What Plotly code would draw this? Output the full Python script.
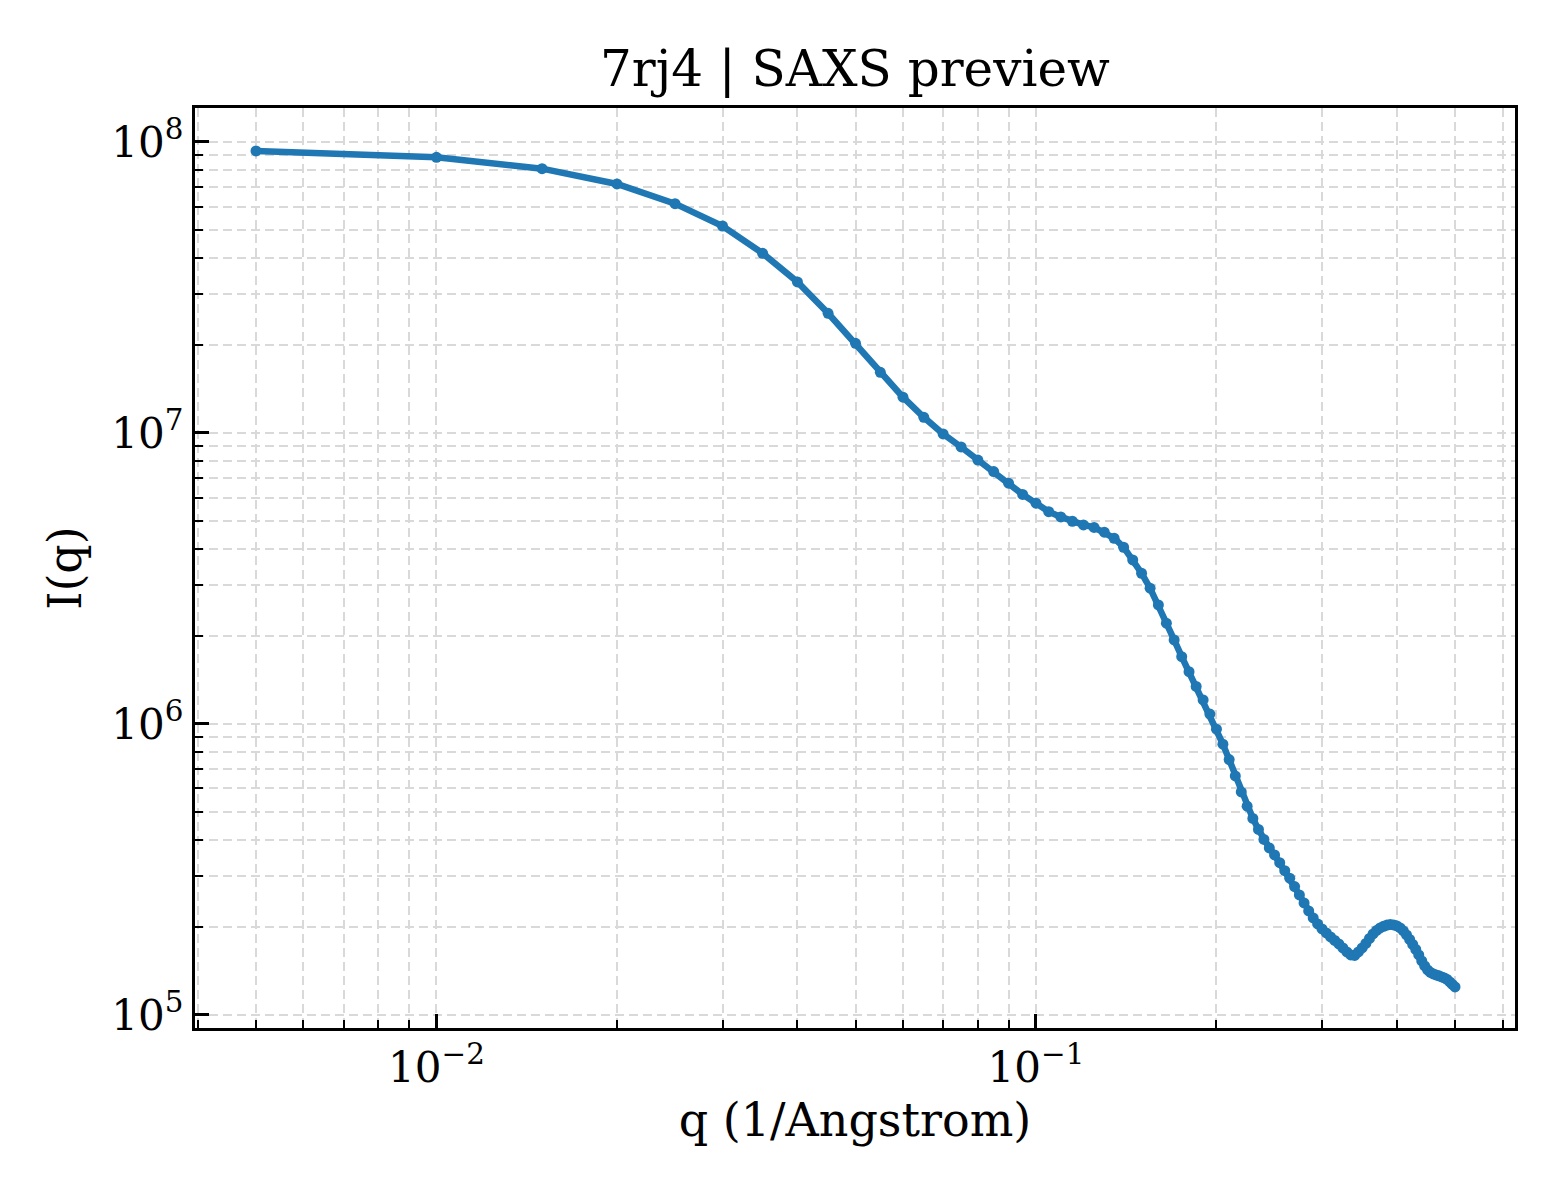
import plotly.graph_objects as go

# ---- data ----
q_values = [round(0.005 * k, 3) for k in range(1, 101)]

intensity = [
    9.313e7, 8.860e7, 8.096e7, 7.173e7, 6.138e7, 5.144e7, 4.145e7, 3.303e7, 2.578e7, 2.033e7,
    1.616e7, 1.327e7, 1.132e7, 9.92e6, 8.95e6, 8.07e6, 7.37e6, 6.72e6, 6.15e6, 5.735e6,
    5.365e6, 5.145e6, 4.973e6, 4.83e6, 4.735e6, 4.559e6, 4.347e6, 4.048e6, 3.661e6, 3.295e6,
    2.927e6, 2.564e6, 2.219e6, 1.944e6, 1.703e6, 1.512e6, 1.345e6, 1.209e6, 1.081e6, 9.597e5,
    8.523e5, 7.54e5, 6.627e5, 5.84e5, 5.214e5, 4.735e5, 4.340e5, 4.010e5, 3.749e5, 3.546e5,
    3.336e5, 3.132e5, 2.950e5, 2.760e5, 2.584e5, 2.426e5, 2.277e5, 2.154e5, 2.055e5, 1.975e5,
    1.913e5, 1.854e5, 1.803e5, 1.754e5, 1.699e5, 1.646e5, 1.608e5, 1.601e5, 1.646e5, 1.699e5,
    1.761e5, 1.832e5, 1.898e5, 1.951e5, 1.990e5, 2.017e5, 2.035e5, 2.045e5, 2.038e5, 2.022e5,
    1.990e5, 1.944e5, 1.883e5, 1.817e5, 1.747e5, 1.679e5, 1.608e5, 1.533e5, 1.474e5, 1.428e5,
    1.400e5, 1.383e5, 1.372e5, 1.362e5, 1.351e5, 1.340e5, 1.324e5, 1.298e5, 1.273e5, 1.248e5,
]

x_tick_vals = [0.01, 0.1]
x_tick_text = ["10<sup>\u22122</sup>", "10<sup>\u22121</sup>"]
y_tick_vals = [1e5, 1e6, 1e7, 1e8]
y_tick_text = ["10<sup>5</sup>", "10<sup>6</sup>", "10<sup>7</sup>", "10<sup>8</sup>"]
minor_mult = [2, 3, 4, 5, 6, 7, 8, 9]
x_minor_decades = [-3, -2, -1]
y_minor_decades = [4, 5, 6, 7, 8]

title_text = "7rj4 | SAXS preview"
x_label = "q (1/Angstrom)"
y_label = "I(q)"

x_minor = [m * 10.0 ** d for d in x_minor_decades for m in minor_mult]
y_minor = [m * 10.0 ** d for d in y_minor_decades for m in minor_mult]

FONT = "DejaVu Serif"
BLUE = "#1f77b4"
GRID = "#d9d9d9"

fig = go.Figure()
fig.add_trace(go.Scatter(
    x=q_values, y=intensity, mode="lines+markers",
    line=dict(color=BLUE, width=6.5),
    marker=dict(color=BLUE, size=11, line=dict(width=0)),
    showlegend=False,
))

common = dict(
    type="log",
    showline=True, linecolor="black", linewidth=3.3, mirror=True,
    ticks="inside", ticklen=14, tickwidth=3, tickcolor="black",
    showgrid=True, gridcolor=GRID, gridwidth=1.8, griddash="9px,5px",
    zeroline=False,
    tickfont=dict(family=FONT, size=42, color="black"),
    tickmode="array",
)

fig.update_xaxes(
    **common,
    range=[-2.4028, -0.201],
    tickvals=x_tick_vals, ticktext=x_tick_text,
    minor=dict(tickmode="array", tickvals=x_minor, ticks="inside", ticklen=8,
               tickwidth=2.4, tickcolor="black", showgrid=True,
               gridcolor=GRID, gridwidth=1.8, griddash="9px,5px"),
    title=dict(text=x_label, font=dict(family=FONT, size=46, color="black"), standoff=14),
)
fig.update_yaxes(
    **common,
    range=[4.955, 8.1168],
    tickvals=y_tick_vals, ticktext=y_tick_text,
    minor=dict(tickmode="array", tickvals=y_minor, ticks="inside", ticklen=8,
               tickwidth=2.4, tickcolor="black", showgrid=True,
               gridcolor=GRID, gridwidth=1.8, griddash="9px,5px"),
    title=dict(text=y_label, font=dict(family=FONT, size=46, color="black"), standoff=16),
)

fig.update_layout(
    width=1560, height=1200,
    margin=dict(l=195, r=45, t=108, b=172),
    paper_bgcolor="white", plot_bgcolor="white",
    title=dict(text=title_text, x=0.548, xanchor="center", y=0.928, yanchor="bottom",
               font=dict(family=FONT, size=50, color="black")),
    font=dict(family=FONT, color="black"),
)

fig.write_html("out.html", config={"displayModeBar": False},
               post_script="document.body.style.margin='0';document.body.style.overflow='hidden';")
